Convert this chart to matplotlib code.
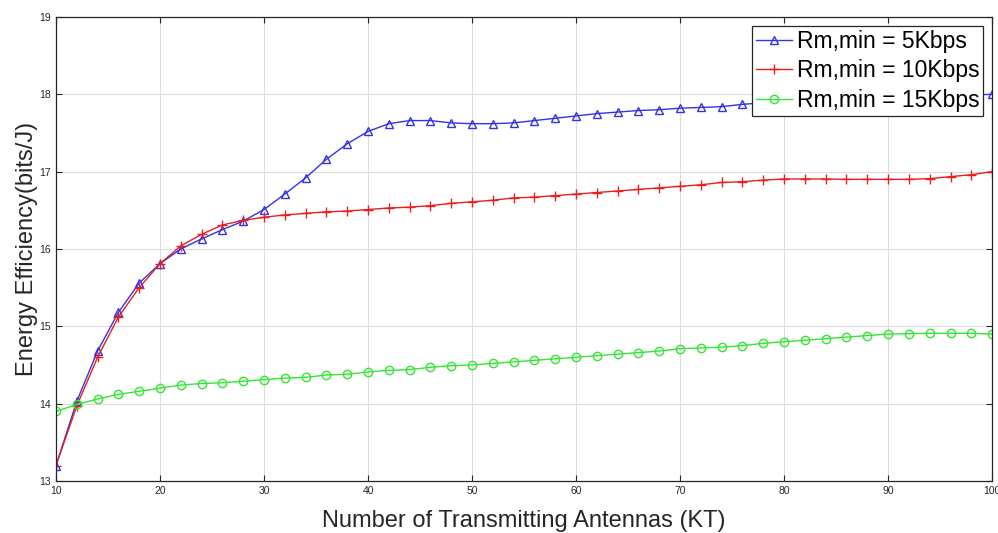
import numpy as np
import matplotlib.pyplot as plt

plt.rcParams['font.family'] = ['Liberation Sans', 'DejaVu Sans']

kt = np.arange(10, 101, 2)

ee_5k = [13.2, 14.03, 14.68, 15.18, 15.56, 15.81, 16.0, 16.13, 16.25, 16.36,
         16.51, 16.71, 16.92, 17.16, 17.36, 17.52, 17.62, 17.66, 17.66, 17.63,
         17.62, 17.62, 17.63, 17.66, 17.69, 17.72, 17.75, 17.77, 17.79, 17.80,
         17.82, 17.83, 17.84, 17.87, 17.89, 17.90, 17.92, 17.93, 17.94, 17.95,
         17.96, 17.97, 17.98, 17.99, 17.99, 18.0]
ee_10k = [13.2, 13.97, 14.6, 15.12, 15.5, 15.81, 16.04, 16.19, 16.31, 16.37,
          16.41, 16.44, 16.46, 16.48, 16.49, 16.51, 16.53, 16.54, 16.56, 16.59,
          16.61, 16.63, 16.66, 16.67, 16.69, 16.71, 16.73, 16.75, 16.77, 16.79,
          16.81, 16.83, 16.86, 16.87, 16.89, 16.905, 16.905, 16.905, 16.9, 16.9,
          16.9, 16.9, 16.91, 16.935, 16.96, 17.0]
ee_15k = [13.9, 13.99, 14.06, 14.12, 14.16, 14.2, 14.24, 14.26, 14.27, 14.29,
          14.31, 14.33, 14.34, 14.37, 14.38, 14.41, 14.43, 14.44, 14.47, 14.49,
          14.5, 14.52, 14.54, 14.56, 14.58, 14.6, 14.62, 14.64, 14.66, 14.68,
          14.71, 14.72, 14.73, 14.75, 14.78, 14.8, 14.82, 14.84, 14.86, 14.88,
          14.9, 14.905, 14.91, 14.91, 14.91, 14.9]

labels = ['Rm,min = 5Kbps', 'Rm,min = 10Kbps', 'Rm,min = 15Kbps']

fig = plt.figure(figsize=(9.98, 5.33), dpi=100)
ax = fig.add_axes([0.0561, 0.0976, 0.938, 0.8706])

ax.plot(kt, ee_5k, color='#3333e6', marker='^', markersize=5.5, mfc='none',
        mew=1.0, lw=1.0, label=labels[0])
ax.plot(kt, ee_10k, color='#e62020', marker='+', markersize=6.5, mew=1.0,
        lw=1.0, label=labels[1])
ax.plot(kt, ee_15k, color='#33e633', marker='o', markersize=6, mfc='none',
        mew=1.0, lw=1.0, label=labels[2])

ax.set_xlim(10, 100)
ax.set_ylim(13, 19)
ax.set_xticks(np.arange(10, 101, 10))
ax.set_yticks(np.arange(13, 20, 1))
ax.grid(True, color='#dcdcdc', lw=0.8)
ax.tick_params(labelsize=7.5, colors='#262626', direction='in', length=4,
               top=True, right=True)
for s in ax.spines.values():
    s.set_color('#262626')
    s.set_linewidth(0.9)

ax.set_xlabel('Number of Transmitting Antennas (KT)', fontsize=17,
              color='#262626', labelpad=10)
ax.set_ylabel('Energy Efficiency(bits/J)', fontsize=17, color='#262626',
              labelpad=1)

leg = ax.legend(loc='upper right', fontsize=16.5, frameon=True, fancybox=False,
                framealpha=1.0, edgecolor='#262626', borderpad=0.15,
                labelspacing=0.3, handlelength=1.6, handletextpad=0.2,
                borderaxespad=0.4)
leg.get_frame().set_linewidth(0.9)

fig.savefig('out.png', dpi=100)
